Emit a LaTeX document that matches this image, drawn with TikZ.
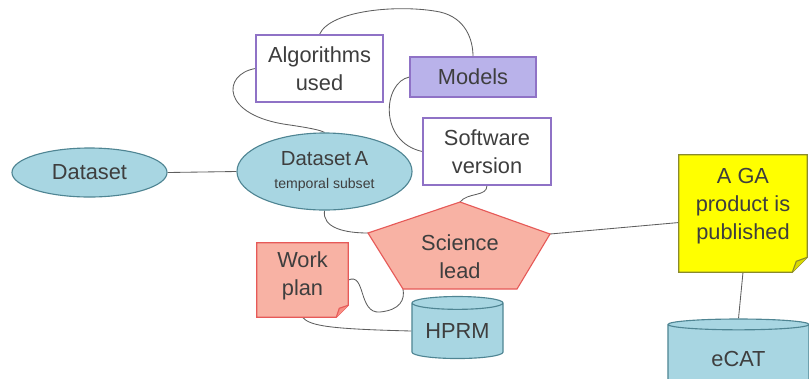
\documentclass[tikz,border=0pt]{standalone}
\usepackage{fontspec}
\setmainfont{Liberation Sans}
\usepackage{xcolor}
\usetikzlibrary{shapes.geometric,calc,backgrounds}

\definecolor{dsfill}{HTML}{A8D6E2}
\definecolor{dsline}{HTML}{4F8593}
\definecolor{boxline}{HTML}{8F72C6}
\definecolor{modfill}{HTML}{B9B2EA}
\definecolor{redfill}{HTML}{F8B2A4}
\definecolor{redline}{HTML}{E65A58}
\definecolor{notefill}{HTML}{FFFF00}
\definecolor{noteline}{HTML}{8A8A2C}
\definecolor{textgray}{HTML}{3E3E3E}
\definecolor{linkgray}{HTML}{5E5E5E}

\begin{document}
\begin{tikzpicture}[x=0.025cm, y=-0.025cm,
  txt/.style={text=textgray, font=\fontsize{15.5}{20}\selectfont, align=center},
  dsnode/.style={ellipse, draw=dsline, fill=dsfill, line width=0.8pt, inner sep=0pt, txt},
  box/.style={rectangle, draw=boxline, fill=white, line width=0.8pt, inner sep=0pt, txt},
  db/.style={cylinder, shape border rotate=90, aspect=0.2, draw=dsline, fill=dsfill, line width=0.8pt, inner sep=0pt, txt},
  link/.style={draw=linkgray, line width=0.6pt}]
  \useasboundingbox (0,0) rectangle (809,378);

  % pentagon corners
  \coordinate (sltop) at (460,202);
  \coordinate (slright) at (550,234);
  \coordinate (slbr) at (517,289);
  \coordinate (slbl) at (403,289);
  \coordinate (slleft) at (368,233);

  \node[dsnode, minimum width=3.875cm, minimum height=1.225cm] (ds) at (89.5,172.5) {Dataset};
  \node[dsnode, minimum width=4.375cm, minimum height=1.925cm] (dsa) at (324.5,171.5)
    {\fontsize{14.5}{18}\selectfont Dataset\,A\\[-4pt]{\fontsize{10}{12}\selectfont temporal subset}};
  \node[box, minimum width=3.175cm, minimum height=1.675cm] (alg) at (319.5,68.5) {Algorithms\\used};
  \node[box, fill=modfill, minimum width=3.15cm, minimum height=1.0cm] (mod) at (473,77) {Models};
  \node[box, minimum width=3.2cm, minimum height=1.675cm] (sw) at (487,151.5) {Software\\version};
  \node[db, minimum width=2.275cm, minimum height=1.55cm] (hprm) at (457.5,331) {HPRM};
  \node[db, minimum width=3.525cm, minimum height=1.85cm] (ecat) at (738.5,359) {eCAT};

  % science lead pentagon
  \filldraw[fill=redfill, draw=redline, line width=0.8pt] (sltop) -- (slright) -- (slbr) -- (slbl) -- (slleft) -- cycle;
  \node[txt] (sl) at (460,257) {Science\\lead};

  % notes with folded corner
  \node[txt, minimum width=2.275cm, minimum height=1.85cm, inner sep=0pt] (wp) at (302.5,280) {};
  \filldraw[fill=redfill, draw=redline, line width=0.8pt]
    (wp.north west) -- (wp.north east) -- ($(wp.south east)+(0,-12)$) -- ($(wp.south east)+(-12,0)$) -- (wp.south west) -- cycle;
  \filldraw[fill=redfill!80!red, draw=redline, line width=0.8pt]
    ($(wp.south east)+(0,-12)$) -- ($(wp.south east)+(-9,-9)$) -- ($(wp.south east)+(-12,0)$);
  \node[txt] (wptext) at (302.5,276) {Work\\plan};

  \node[txt, minimum width=3.2cm, minimum height=2.925cm, inner sep=0pt] (ga) at (743,213.5) {};
  \filldraw[fill=notefill, draw=noteline, line width=0.8pt]
    (ga.north west) -- (ga.north east) -- ($(ga.south east)+(0,-15)$) -- ($(ga.south east)+(-15,0)$) -- (ga.south west) -- cycle;
  \filldraw[fill=notefill!70!olive, draw=noteline, line width=0.8pt]
    ($(ga.south east)+(0,-15)$) -- ($(ga.south east)+(-11,-11)$) -- ($(ga.south east)+(-15,0)$);
  \node[txt] (gatext) at (743,206) {A GA\\product is\\published};

  % connectors behind everything
  \begin{scope}[on background layer]
  \draw[link] (ds.east) -- (dsa.west);
  \draw[link] (alg.west) .. controls (222,74) and (220,116) .. (290,125) .. controls (310,128) and (320,130) .. (dsa.north);
  \draw[link] (alg.north) .. controls (330,10) and (400,4) .. (440,12) .. controls (466,18) and (473,40) .. (mod.north);
  \draw[link] (mod.west) .. controls (383,82) and (378,142) .. (sw.west);
  \draw[link] (sw.south) .. controls (487,197) and (468,192) .. (sltop);
  \draw[link] (dsa.south) .. controls (322,228) and (345,233) .. (slleft);
  \draw[link] (slright) -- (ga.188);
  \draw[link] (wp.east) .. controls (366,272) and (358,314) .. (380,312) .. controls (400,310) and (405,300) .. (slbl);
  \draw[link] (wp.south) .. controls (310,326) and (330,329) .. (hprm.west);
  \draw[link] (ga.south) -- (ecat.north);
  \end{scope}
\end{tikzpicture}
\end{document}
